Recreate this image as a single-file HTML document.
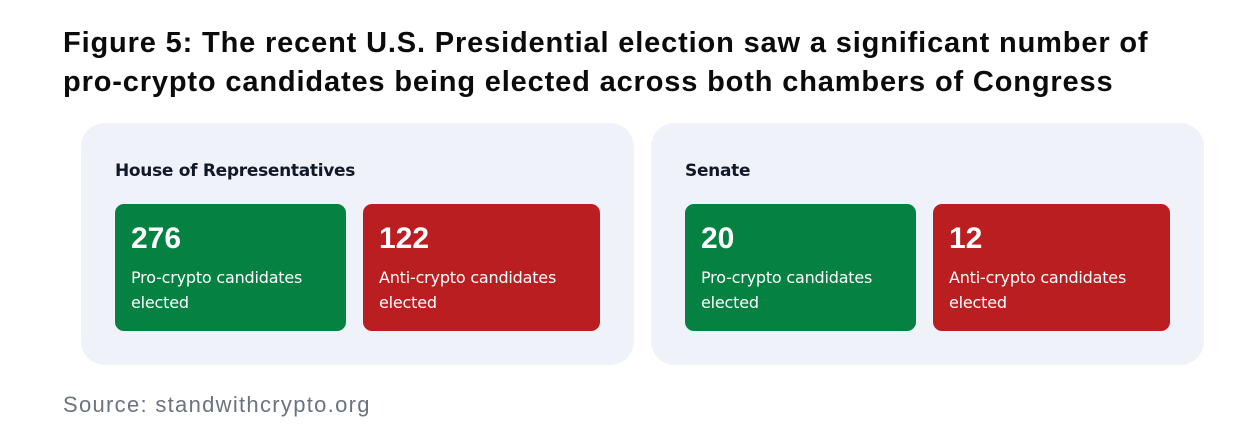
<!DOCTYPE html>
<html><head><meta charset="utf-8"><style>
body{margin:0;width:1234px;height:438px;background:#fff;position:relative;overflow:hidden;font-family:"Liberation Sans","DejaVu Sans",sans-serif}
.t{position:absolute;left:63px;top:24px;font-size:29px;font-weight:bold;line-height:39px;color:#0b0b0b;letter-spacing:0.85px;white-space:nowrap}
.p{position:absolute;top:123px;width:553px;height:242px;background:#eff2f8;border-radius:24px}
.h{position:absolute;left:34px;top:38px;font-size:17px;font-weight:bold;color:#111827;font-family:"DejaVu Sans",sans-serif;letter-spacing:-0.3px}
.c{position:absolute;top:81px;height:127px;border-radius:9px;color:#fff;font-family:"DejaVu Sans",sans-serif}
.g{background:#058142;left:34px;width:231px}
.r{background:#bb1e20;left:282px;width:237px}
.n{position:absolute;left:16px;top:18px;font-size:30px;font-family:"Liberation Sans",sans-serif;font-weight:bold}
.d{position:absolute;left:16px;top:61px;font-size:16px;line-height:25px;letter-spacing:-0.2px}
.s{position:absolute;left:63px;top:392px;font-size:22px;color:#6b7280;letter-spacing:1.3px}
</style></head><body>
<div class="t">Figure 5: The recent U.S. Presidential election saw a significant number of<br>pro-crypto candidates being elected across both chambers of Congress</div>
<div class="p" style="left:81px">
<div class="h">House of Representatives</div>
<div class="c g"><div class="n">276</div><div class="d">Pro-crypto candidates<br>elected</div></div>
<div class="c r"><div class="n">122</div><div class="d">Anti-crypto candidates<br>elected</div></div>
</div>
<div class="p" style="left:651px">
<div class="h">Senate</div>
<div class="c g"><div class="n">20</div><div class="d">Pro-crypto candidates<br>elected</div></div>
<div class="c r"><div class="n">12</div><div class="d">Anti-crypto candidates<br>elected</div></div>
</div>
<div class="s">Source: standwithcrypto.org</div>
</body></html>
